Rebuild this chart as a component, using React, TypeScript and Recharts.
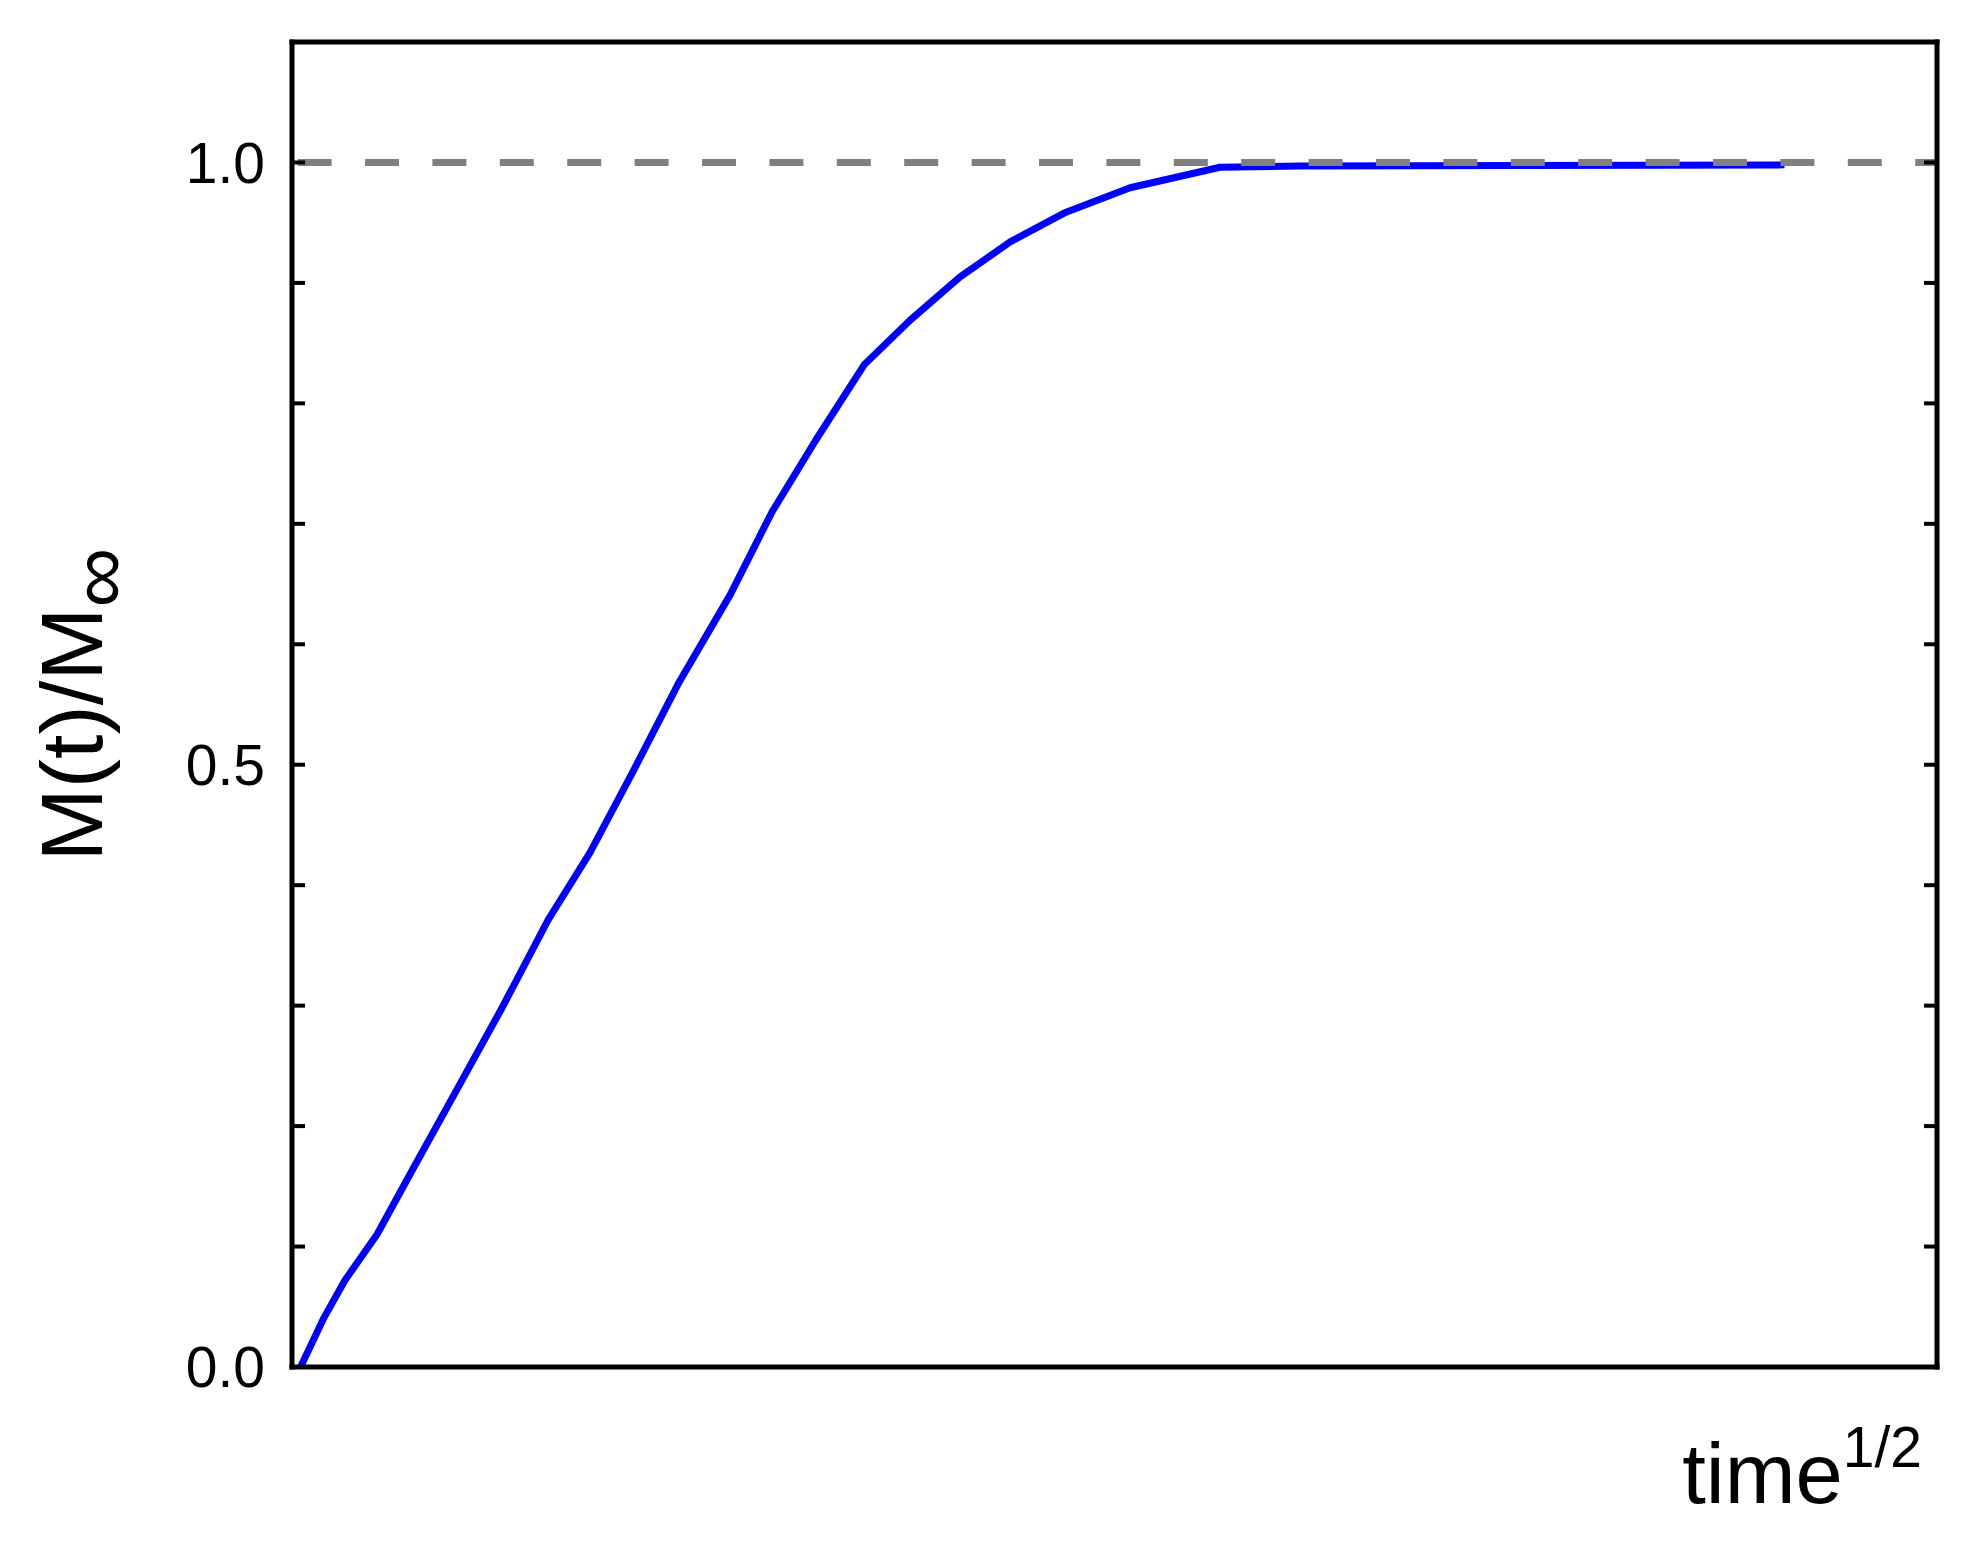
import React from "react";
import { LineChart, Line, XAxis, YAxis, ReferenceLine } from "recharts";

// sqrt(time), arbitrary units (axis carries no tick labels)
const xValues = [0, 1.37, 2.59, 4.46, 6.62, 8.84, 11.75, 14.44, 16.89, 19.46, 22.03, 25.07, 27.52, 30.09, 32.89, 35.57, 38.49, 41.41, 44.56, 48.41, 53.66, 58.33, 86.6];
// M(t)/M∞
const yValues = [0, 0.041, 0.072, 0.11, 0.166, 0.223, 0.298, 0.371, 0.427, 0.496, 0.567, 0.641, 0.71, 0.77, 0.832, 0.869, 0.905, 0.934, 0.958, 0.979, 0.996, 0.997, 0.998];

const yTicks = [0, 0.1, 0.2, 0.3, 0.4, 0.5, 0.6, 0.7, 0.8, 0.9, 1.0];
const yTickLabels = ["0.0", "", "", "", "", "0.5", "", "", "", "", "1.0"];
const xDomain: [number, number] = [-0.5, 95.5];
const yDomain: [number, number] = [0, 1.1];
const plateau = 1.0;

const data = xValues.map((x, i) => ({ x, y: yValues[i] }));

const FONT = "'Liberation Sans', Arial, sans-serif";

const YLabel = (props: any) => {
  const vb = props.viewBox || { x: 192, y: 42, width: 100, height: 1325 };
  const cx = vb.x - 90;
  const cy = vb.y + vb.height / 2;
  return (
    <text
      transform={`rotate(-90, ${cx}, ${cy})`}
      x={cx}
      y={cy}
      textAnchor="middle"
      fontFamily={FONT}
      fontSize={88}
      fill="#000"
    >
      M(t)/M
      <tspan dy={25} fontSize={84}>∞</tspan>
    </text>
  );
};

const XLabel = (props: any) => {
  const vb = props.viewBox || { x: 292, y: 1367, width: 1645, height: 30 };
  const x = vb.x + vb.width - 15;
  const y = vb.y + 136;
  return (
    <text x={x} y={y} textAnchor="end" fontFamily={FONT} fontSize={85} fill="#000">
      time
      <tspan dy={-36} fontSize={57}>1/2</tspan>
    </text>
  );
};

const axisLineStyle = { stroke: "#000", strokeWidth: 5, strokeLinecap: "square" as const };
const tickLineStyle = { stroke: "#000", strokeWidth: 4 };

export default function App() {
  return (
    <div style={{ position: "absolute", left: 0, top: 0, width: 1968, height: 1545, background: "#fff" }}>
      <LineChart
        width={1968}
        height={1545}
        data={data}
        margin={{ top: 32, right: 21, bottom: 148, left: 192 }}
        style={{ fontFamily: FONT }}
      >
        <XAxis
          xAxisId="bottom"
          type="number"
          dataKey="x"
          domain={xDomain}
          allowDataOverflow
          orientation="bottom"
          height={30}
          tick={false}
          tickLine={false}
          axisLine={axisLineStyle}
          stroke="#000"
          strokeWidth={5}
          label={{ content: (p: any) => <XLabel {...p} /> }}
        />
        <XAxis
          xAxisId="top"
          type="number"
          dataKey="x"
          domain={xDomain}
          allowDataOverflow
          orientation="top"
          height={10}
          tick={false}
          tickLine={false}
          axisLine={axisLineStyle}
          stroke="#000"
          strokeWidth={5}
        />
        <YAxis
          yAxisId="left"
          type="number"
          domain={yDomain}
          allowDataOverflow
          ticks={yTicks}
          interval={0}
          width={100}
          tickSize={-13}
          tickMargin={40}
          tickLine={tickLineStyle}
          axisLine={axisLineStyle}
          stroke="#000"
          strokeWidth={5}
          tickFormatter={(v: number) => yTickLabels[yTicks.indexOf(v)] ?? ""}
          tick={{ fill: "#000", stroke: "none", fontSize: 57, fontFamily: FONT }}
          label={{ content: (p: any) => <YLabel {...p} /> }}
        />
        <YAxis
          yAxisId="right"
          orientation="right"
          type="number"
          domain={yDomain}
          allowDataOverflow
          ticks={yTicks}
          interval={0}
          width={10}
          tickSize={-13}
          tickLine={tickLineStyle}
          axisLine={axisLineStyle}
          stroke="#000"
          strokeWidth={5}
          tickFormatter={() => ""}
          tick={{ fill: "#000", stroke: "none", fontSize: 1 }}
        />
        <Line
          xAxisId="bottom"
          yAxisId="left"
          type="linear"
          dataKey="y"
          stroke="#0000ff"
          strokeWidth={7}
          strokeLinejoin="round"
          dot={false}
          activeDot={false}
          isAnimationActive={false}
        />
        <ReferenceLine
          xAxisId="bottom"
          yAxisId="left"
          y={plateau}
          stroke="#808080"
          strokeWidth={7}
          strokeDasharray="34 33.4"
          strokeDashoffset={-5.6}
        />
      </LineChart>
    </div>
  );
}
